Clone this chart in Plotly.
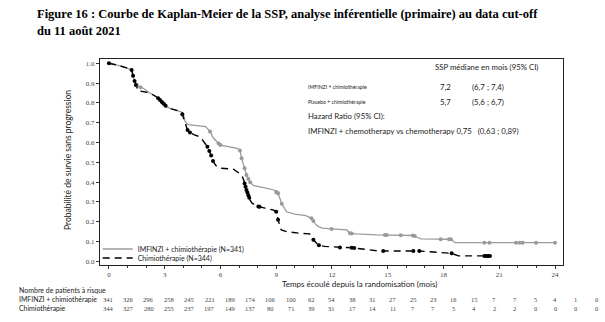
import numpy as np
import plotly.graph_objects as go

# ---------------- data ----------------
imf_t = [0, 0.5, 1.0, 1.22, 1.35, 1.5, 1.6, 1.85, 2.2, 2.57, 2.75, 3.1, 3.4, 3.9, 4.0, 4.1, 4.27,
         5.2, 5.44, 5.6, 5.88, 6.0, 6.9, 7.05, 7.14, 7.3, 7.4, 7.59, 7.77, 8.0, 8.9, 9.0, 9.1, 9.3,
         9.56, 10.0, 10.6, 10.9, 11.09, 11.27, 11.5, 12.0, 12.8, 12.97, 13.3, 14.4, 16.4, 16.6, 16.8,
         18.4, 18.62, 24.0]
imf_s = [1.0, 0.99, 0.975, 0.966, 0.92, 0.89, 0.882, 0.874, 0.85, 0.83, 0.815, 0.78, 0.768, 0.755,
         0.745, 0.705, 0.69, 0.68, 0.656, 0.625, 0.596, 0.587, 0.57, 0.56, 0.52, 0.47, 0.436, 0.40,
         0.383, 0.378, 0.36, 0.35, 0.343, 0.29, 0.25, 0.238, 0.23, 0.217, 0.19, 0.175, 0.167, 0.163,
         0.158, 0.141, 0.138, 0.133, 0.13, 0.12, 0.113, 0.111, 0.094, 0.094]
imf_cens = [1.5, 1.7, 2.9, 3.0, 5.44, 5.9, 6.0, 7.05, 7.14, 7.3, 7.4, 7.5, 7.6, 9.0, 9.05, 9.1, 9.3,
            10.9, 11.0, 11.98, 12.97, 13.06, 14.85, 14.95, 15.7, 16.35, 16.45, 17.85, 18.3, 18.4,
            20.2, 20.47, 21.9, 22.1, 22.26, 22.98, 24.0]

chemo_t = [0, 0.5, 1.0, 1.22, 1.35, 1.5, 1.58, 1.85, 2.2, 2.57, 2.75, 3.1, 3.37, 3.9, 3.95, 4.1, 4.23,
           4.36, 4.6, 4.9, 5.17, 5.3, 5.49, 5.61, 5.8, 6.0, 6.7, 6.87, 7.14, 7.25, 7.4, 7.59, 7.7,
           8.04, 8.4, 8.84, 9.0, 9.1, 9.27, 9.56, 10.3, 10.8, 11.0, 11.27, 11.6, 12.43, 13.1, 14.5,
           16.7, 18.44, 18.8, 20.5]
chemo_s = [1.0, 0.99, 0.975, 0.966, 0.92, 0.875, 0.86, 0.857, 0.85, 0.83, 0.815, 0.78, 0.77, 0.755,
           0.742, 0.705, 0.663, 0.651, 0.638, 0.629, 0.596, 0.579, 0.537, 0.503, 0.478, 0.47, 0.465,
           0.453, 0.436, 0.41, 0.36, 0.31, 0.293, 0.276, 0.268, 0.259, 0.25, 0.209, 0.158, 0.15,
           0.141, 0.138, 0.108, 0.082, 0.075, 0.07, 0.068, 0.052, 0.052, 0.04, 0.027, 0.027]
chemo_cens = [0, 1.22, 1.3, 1.38, 1.45, 2.65, 2.75, 2.85, 2.95, 3.05, 3.95, 4.23, 4.36, 5.3, 5.4,
              5.5, 5.6, 7.3, 7.35, 7.4, 7.45, 7.5, 7.55, 8.04, 8.1, 9.0, 9.1, 11.0, 11.3, 12.43,
              13.06, 13.2, 14.76, 16.38, 16.7, 18.44, 20.2, 20.3, 20.4, 20.5]

risk_imf = [341, 326, 296, 258, 245, 221, 189, 174, 106, 100, 62, 54, 38, 31, 27, 25, 23, 16, 15,
            7, 7, 5, 4, 1, 0]
risk_chemo = [344, 327, 280, 255, 237, 197, 149, 137, 80, 71, 39, 31, 17, 14, 11, 7, 7, 5, 4, 2,
              2, 0, 0, 0, 0]

x_ticks = list(range(0, 25, 3))
y_ticks = [i / 10 for i in range(11)]

name_imf = "IMFINZI + chimiothérapie (N=341)"
name_chemo = "Chimiothérapie (N=344)"

# ---------------- layout constants ----------------
W, H = 605, 322
L, R, T, B = 100, 563, 59, 265
GREY = "#9a9a9a"
SANS = "Lato, 'Open Sans', sans-serif"
SERIF = "'Liberation Serif', 'Times New Roman', serif"


def px(x):
    return (x - L) / (R - L)


def py(y):
    return (B - y) / (B - T)


fig = go.Figure()

fig.add_trace(go.Scatter(x=imf_t, y=imf_s, mode="lines", name=name_imf,
                         line=dict(color=GREY, width=1.3), legend="legend"))
fig.add_trace(go.Scatter(x=chemo_t, y=chemo_s, mode="lines", name=name_chemo,
                         line=dict(color="black", width=1.4, dash="7px,5px"), legend="legend2"))

fig.add_trace(go.Scatter(x=imf_cens, y=np.interp(imf_cens, imf_t, imf_s), mode="markers",
                         marker=dict(color=GREY, size=4), showlegend=False, hoverinfo="skip"))
fig.add_trace(go.Scatter(x=chemo_cens, y=np.interp(chemo_cens, chemo_t, chemo_s), mode="markers",
                         marker=dict(color="black", size=4), showlegend=False, hoverinfo="skip"))

ann = []
# title
ann.append(dict(x=px(35), y=py(14), xref="paper", yref="paper", xanchor="left", yanchor="middle",
                text="<b>Figure 16 : Courbe de Kaplan-Meier de la SSP, analyse inférentielle (primaire) au data cut-off</b>",
                showarrow=False, font=dict(family=SERIF, size=12.5, color="black")))
ann.append(dict(x=px(35), y=py(31), xref="paper", yref="paper", xanchor="left", yanchor="middle",
                text="<b>du 11 août 2021</b>", showarrow=False,
                font=dict(family=SERIF, size=12.5, color="black")))
# axis titles
ann.append(dict(x=px(68), y=py(160), xref="paper", yref="paper", xanchor="center", yanchor="middle",
                text="Probabilité de survie sans progression", textangle=-90, showarrow=False,
                font=dict(family=SANS, size=8.5, color="#222")))
ann.append(dict(x=px(359), y=py(283.5), xref="paper", yref="paper", xanchor="center", yanchor="middle",
                text="Temps écoulé depuis la randomisation (mois)", showarrow=False,
                font=dict(family=SANS, size=8, color="#222")))
# statistics box
big = dict(family=SANS, size=7.8, color="#222")
small = dict(family=SANS, size=5.2, color="#222")
ann.append(dict(x=px(433), y=py(67), text="SSP médiane en mois (95% CI)", font=big))
ann.append(dict(x=px(306), y=py(87), text="IMFINZI + chimiothérapie", font=small))
ann.append(dict(x=px(438), y=py(87), text="7,2", font=big))
ann.append(dict(x=px(470), y=py(87), text="(6,7 ; 7,4)", font=big))
ann.append(dict(x=px(306), y=py(102), text="Placebo + chimiothérapie", font=small))
ann.append(dict(x=px(438), y=py(102), text="5,7", font=big))
ann.append(dict(x=px(470), y=py(102), text="(5,6 ; 6,7)", font=big))
ann.append(dict(x=px(306), y=py(116), text="Hazard Ratio (95% CI):", font=big))
ann.append(dict(x=px(306), y=py(131),
                text="IMFINZI + chemotherapy vs chemotherapy 0,75&nbsp;&nbsp;&nbsp;(0,63 ; 0,89)",
                font=big))
# risk table
ann.append(dict(x=px(17), y=py(290), text="Nombre de patients à risque",
                font=dict(family=SANS, size=7, color="#222")))
ann.append(dict(x=px(17), y=py(299), text="IMFINZI + chimiothérapie",
                font=dict(family=SANS, size=6.9, color="#222")))
ann.append(dict(x=px(17), y=py(308), text="Chimiothérapie",
                font=dict(family=SANS, size=6.9, color="#222")))
for a in ann[4:]:
    a.update(xref="paper", yref="paper", xanchor="left", yanchor="middle", showarrow=False)

x0, x1 = 108, 596
n = len(risk_imf)
for i, (a, b) in enumerate(zip(risk_imf, risk_chemo)):
    xp = x0 + i * (x1 - x0) / (n - 1)
    for val, yy in ((a, 299), (b, 308)):
        ann.append(dict(x=px(xp), y=py(yy), xref="paper", yref="paper", xanchor="center",
                        yanchor="middle", text=str(val), showarrow=False,
                        font=dict(family=SERIF, size=6.5, color="#444")))

fig.update_layout(
    width=W, height=H,
    margin=dict(l=L, r=W - R, t=T, b=H - B, pad=0),
    paper_bgcolor="white", plot_bgcolor="white",
    annotations=ann,
    legend=dict(x=-0.005, y=py(249), xanchor="left", yanchor="middle",
                bgcolor="rgba(0,0,0,0)", font=dict(family=SANS, size=7, color="#222"),
                itemwidth=30, tracegroupgap=0),
    legend2=dict(x=-0.005, y=py(258), xanchor="left", yanchor="middle",
                 bgcolor="rgba(0,0,0,0)", font=dict(family=SANS, size=7, color="#222"),
                 itemwidth=30, tracegroupgap=0),
)

fig.update_xaxes(range=[-0.48, 24.43], tickmode="array", tickvals=x_ticks,
                 ticktext=[str(v) for v in x_ticks], ticks="outside", ticklen=3, tickwidth=1,
                 tickcolor="#333", showline=True, linecolor="#222", linewidth=1, mirror=True,
                 showgrid=False, zeroline=False,
                 tickfont=dict(family=SERIF, size=7, color="#444"),
                 minor=dict(dtick=1, tick0=0, ticks="outside", ticklen=2, tickcolor="#333",
                            showgrid=False))
fig.update_yaxes(range=[-0.019, 1.0217], tickmode="array", tickvals=y_ticks,
                 ticktext=[f"{v:.1f}" for v in y_ticks], ticks="outside", ticklen=3, tickwidth=1,
                 tickcolor="#333", showline=True, linecolor="#222", linewidth=1, mirror=True,
                 showgrid=False, zeroline=False,
                 tickfont=dict(family=SERIF, size=7, color="#444"))

fig.write_html("out.html")
